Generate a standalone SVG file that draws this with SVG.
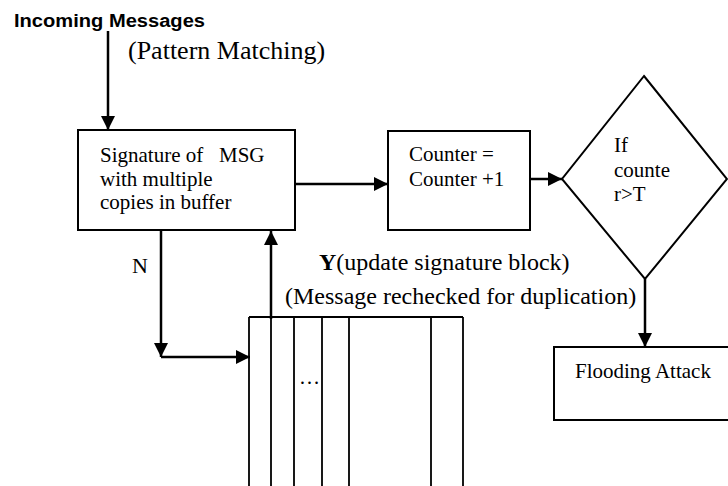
<svg xmlns="http://www.w3.org/2000/svg" width="728" height="486" viewBox="0 0 728 486">
<style>
.t{font-family:"Liberation Serif","Times New Roman",serif;fill:#000;white-space:pre}
.box{fill:#fff;stroke:#000;stroke-width:2}
.buf{fill:none;stroke:#000;stroke-width:1.8}
.c{fill:none;stroke:#000;stroke-width:2.5}
</style>
<defs>
<marker id="ah" markerUnits="userSpaceOnUse" markerWidth="14" markerHeight="14" refX="14" refY="7" orient="auto">
<path d="M0,0 L14,7 L0,14 z" fill="#000"/>
</marker>
</defs>
<rect width="728" height="486" fill="#fff"/>
<text x="14" y="27" font-family="'Liberation Sans',Arial,sans-serif" font-weight="bold" font-size="18" textLength="191" lengthAdjust="spacingAndGlyphs">Incoming Messages</text>
<text class="t" x="128" y="59" font-size="26">(Pattern Matching)</text>
<g id="sig">
<rect class="box" x="78" y="130" width="217" height="100"/>
<text class="t" x="100" y="162" font-size="21">Signature of   MSG</text>
<text class="t" x="100" y="186" font-size="21">with multiple</text>
<text class="t" x="100" y="209" font-size="21">copies in buffer</text>
</g>
<g id="counter">
<rect class="box" x="388" y="131" width="142" height="99"/>
<text class="t" x="409" y="161" font-size="21">Counter =</text>
<text class="t" x="409" y="186" font-size="21">Counter +1</text>
</g>
<g id="decision">
<path class="box" d="M644,76 L727,179 L645,279 L562,179 Z"/>
<text class="t" x="614" y="152" font-size="21">If</text>
<text class="t" x="614" y="177" font-size="21">counte</text>
<text class="t" x="614" y="201" font-size="21">r&gt;T</text>
</g>
<g id="flood">
<rect class="box" x="554" y="347" width="180" height="73"/>
<text class="t" x="575" y="378" font-size="21">Flooding Attack</text>
</g>
<g id="buffer">
<path class="buf" d="M249,317 H463 M249,317 V486 M271,317 V486 M294,317 V486 M322,317 V486 M349,317 V486 M431,317 V486 M463,317 V486"/>
<text class="t" x="299" y="384" font-size="21">…</text>
</g>
<g id="labels">
<text class="t" x="132" y="273" font-size="22">N</text>
<text class="t" x="319" y="270" font-size="24"><tspan font-weight="bold">Y</tspan>(update signature block)</text>
<text class="t" x="285" y="304" font-size="24">(Message rechecked for duplication)</text>
</g>
<g id="connectors">
<path class="c" d="M108,31 V130" marker-end="url(#ah)"/>
<path class="c" d="M295,184 H388" marker-end="url(#ah)"/>
<path class="c" d="M530,179 H562" marker-end="url(#ah)"/>
<path class="c" d="M645,279 V347" marker-end="url(#ah)"/>
<path class="c" d="M161,230 V357" marker-end="url(#ah)"/>
<path class="c" d="M161,357 H250" marker-end="url(#ah)"/>
<path class="c" d="M271,319 V231" marker-end="url(#ah)"/>
</g>
</svg>
